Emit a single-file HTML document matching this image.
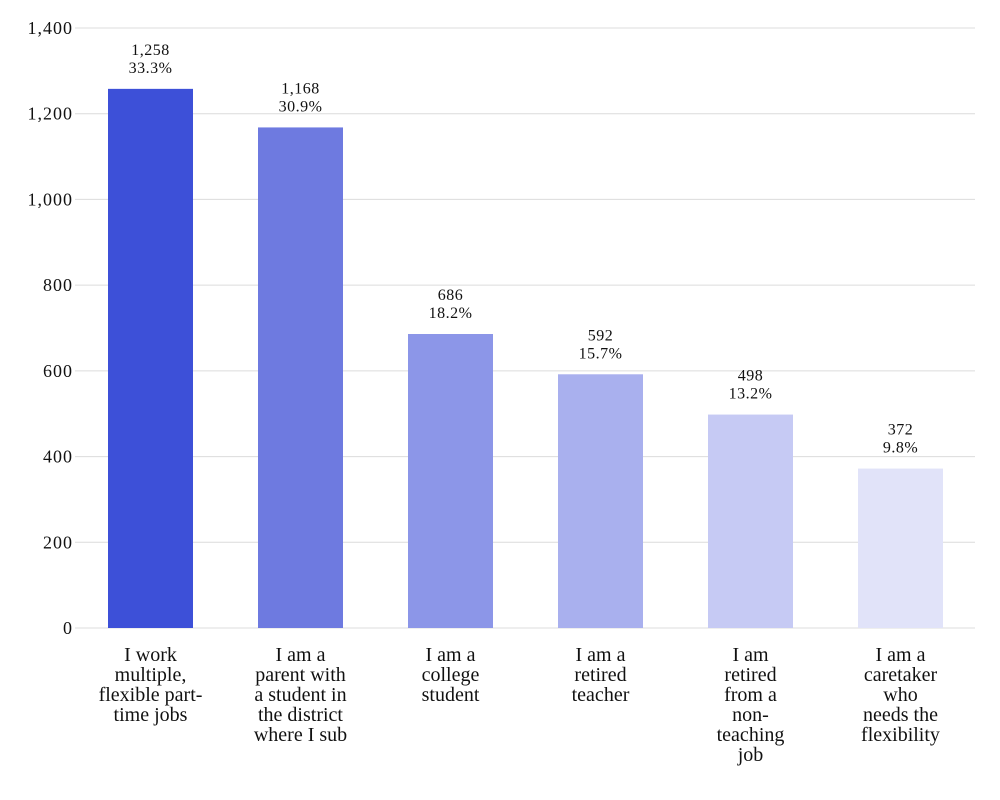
<!DOCTYPE html>
<html><head><meta charset="utf-8"><style>
body{margin:0;background:#fff;}
svg{display:block;font-family:"Liberation Serif",serif;}
</style></head><body>
<svg id="c" width="1000" height="800"></svg>
<script>
const categories=[["I work","multiple,","flexible part-","time jobs"],["I am a","parent with","a student in","the district","where I sub"],["I am a","college","student"],["I am a","retired","teacher"],["I am","retired","from a","non-","teaching","job"],["I am a","caretaker","who","needs the","flexibility"]];
const values=[1258,1168,686,592,498,372];
const pcts=["33.3%","30.9%","18.2%","15.7%","13.2%","9.8%"];
const ticks=[0,200,400,600,800,1000,1200,1400];
const colors=["#3d50d8","#6e7ae0","#8c96e8","#a9b0ee","#c6caf4","#e1e3f9"];
const NS="http://www.w3.org/2000/svg";
const svg=document.getElementById('c');
const y0=628,yTop=28,maxV=1400,left=75,right=975;
const y=v=>y0-(v/maxV)*(y0-yTop);
const step=150,bw=85,firstX=108;
const x=i=>firstX+i*step;
function mk(t,a){const e=document.createElementNS(NS,t);for(const k in a)e.setAttribute(k,a[k]);svg.appendChild(e);return e;}
ticks.forEach(t=>{
 const l=mk('line',{x1:left,x2:right,y1:y(t),y2:y(t),stroke:'#dcdcdc','stroke-width':1});
 
 
 const tx=mk('text',{x:73,y:y(t)+6,'text-anchor':'end','font-size':18,'letter-spacing':1,fill:'#111'});
 tx.textContent=t.toLocaleString('en-US');
 
 
});
values.forEach((v,i)=>{
 const r=mk('rect',{x:x(i),y:y(v),width:bw,height:y0-y(v),fill:colors[i]});
 
 
 const cx=x(i)+bw/2;
 const t1=mk('text',{x:cx,y:y(v)-34,'text-anchor':'middle','font-size':16,'letter-spacing':0.5,fill:'#111'});
 t1.textContent=v.toLocaleString('en-US');
 
 
 const t2=mk('text',{x:cx,y:y(v)-16,'text-anchor':'middle','font-size':16,'letter-spacing':0.5,fill:'#111'});
 t2.textContent=pcts[i];
 
 
 categories[i].forEach((ln,j)=>{
  const c=mk('text',{x:cx,y:661+j*20,'text-anchor':'middle','font-size':20,fill:'#111'});
  c.textContent=ln;
  
  
 });
});
</script>
</body></html>
